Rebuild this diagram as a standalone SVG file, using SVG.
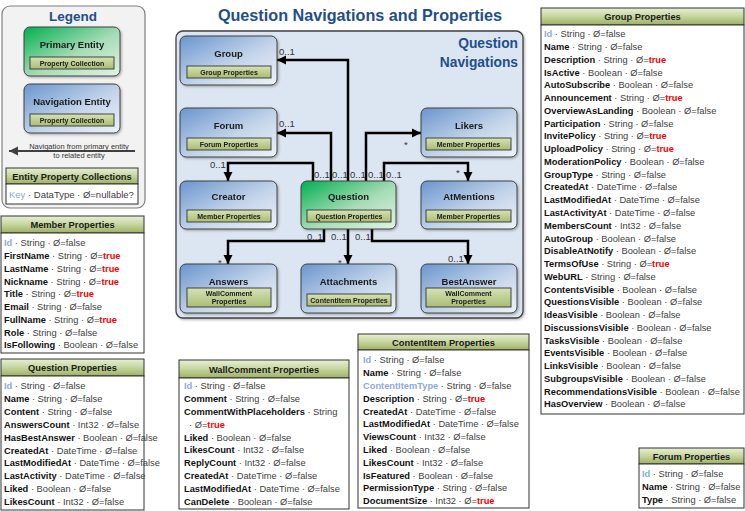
<svg xmlns="http://www.w3.org/2000/svg" width="745" height="511" viewBox="0 0 745 511">
<style>
text{font-family:"Liberation Sans",Arial,sans-serif}
.bg{fill:#fff}
.legend{fill:#f2f2f2;stroke:#7f7f7f;stroke-width:1.2}
.panel{fill:#dce6f2;stroke:#404040;stroke-width:1.3}
.nav{fill:url(#gNav);stroke:#404040;stroke-width:1}
.pri{fill:url(#gPri);stroke:#404040;stroke-width:1}
.bar{fill:url(#gBar);stroke:#333;stroke-width:0.9}
.hdr{fill:url(#gHdr);stroke:#333;stroke-width:1}
.body{fill:#fff;stroke:#333;stroke-width:1}
.nt{font-size:9.5px;font-weight:bold;fill:#1a1a1a;text-anchor:middle}
.bt{font-size:7px;font-weight:bold;fill:#1a1a1a;text-anchor:middle}
.ht{font-size:9.3px;font-weight:bold;fill:#1a1a1a;text-anchor:middle}
.r{font-size:9.3px;fill:#404040}
.k{font-weight:bold;fill:#111}
.ik{font-weight:bold;fill:#8eaadb}
.t{font-weight:bold;fill:#f00}
.lbl{font-size:9.5px;fill:#333}
.conn{fill:none;stroke:#000;stroke-width:2.5;marker-end:url(#arr)}
.big{font-weight:bold;fill:#1f4e8c}
</style>
<defs>
<linearGradient id="gNav" x1="0" y1="0" x2="1" y2="1">
<stop offset="0" stop-color="#6a95ce"/><stop offset="0.55" stop-color="#c3d4ea"/><stop offset="1" stop-color="#eef3f9"/>
</linearGradient>
<linearGradient id="gPri" x1="0" y1="0" x2="1" y2="1">
<stop offset="0" stop-color="#00b050"/><stop offset="0.55" stop-color="#a8dcb7"/><stop offset="1" stop-color="#e2f3e6"/>
</linearGradient>
<linearGradient id="gBar" x1="0" y1="0" x2="0" y2="1">
<stop offset="0" stop-color="#d6e2b4"/><stop offset="1" stop-color="#a9bc74"/>
</linearGradient>
<linearGradient id="gHdr" x1="0" y1="0" x2="0" y2="1">
<stop offset="0" stop-color="#e8efd6"/><stop offset="0.5" stop-color="#c6d59d"/><stop offset="1" stop-color="#9db063"/>
</linearGradient>
<filter id="sh" x="-10%" y="-10%" width="130%" height="130%">
<feDropShadow dx="1.2" dy="1.2" stdDeviation="0.8" flood-color="#000" flood-opacity="0.3"/>
</filter>
<marker id="arr" markerUnits="userSpaceOnUse" markerWidth="10" markerHeight="10" refX="9" refY="5" orient="auto">
<path d="M0,0.5 L9,5 L0,9.5 z" fill="#000"/>
</marker>
<marker id="arrG" markerUnits="userSpaceOnUse" markerWidth="10" markerHeight="10" refX="9" refY="5" orient="auto">
<path d="M0,0.5 L9,5 L0,9.5 z" fill="#404040"/>
</marker>
</defs>
<rect class="bg" x="0" y="0" width="745" height="511"/>

<!-- Legend -->
<g id="legend">
<rect class="legend" x="2" y="6" width="143" height="202" rx="8"/>
<text class="big" x="73" y="21" font-size="13.5" text-anchor="middle">Legend</text>
<g id="legend-primary" filter="url(#sh)">
<rect class="pri" x="24" y="27" width="96" height="49" rx="6"/>
<text class="nt" x="72" y="48.3">Primary Entity</text>
<rect class="bar" x="30" y="57" width="84" height="12"/>
<text class="bt" x="72" y="65.5">Property Collection</text>
</g>
<g id="legend-navigation" filter="url(#sh)">
<rect class="nav" x="24" y="84" width="96" height="49" rx="6"/>
<text class="nt" x="72" y="105.3">Navigation Entity</text>
<rect class="bar" x="30" y="114" width="84" height="12"/>
<text class="bt" x="72" y="122.5">Property Collection</text>
</g>
<line x1="135" y1="151" x2="9" y2="151" stroke="#404040" stroke-width="2" marker-end="url(#arrG)"/>
<text x="79" y="149" font-size="7.5" fill="#333" text-anchor="middle">Navigation from primary entity</text>
<text x="79" y="158" font-size="7.5" fill="#333" text-anchor="middle">to related entity</text>
<g id="legend-collections">
<rect class="hdr" x="6" y="168" width="132" height="16"/>
<text class="ht" x="72" y="179.5">Entity Property Collections</text>
<rect class="body" x="6" y="184" width="132" height="20"/>
<text x="9" y="197.5" font-size="9.5" fill="#404040"><tspan fill="#8eaadb">Key</tspan> · DataType · Ø=nullable?</text>
</g>
</g>

<!-- Title -->
<text class="big" x="360" y="21" font-size="16.2" text-anchor="middle">Question Navigations and Properties</text>

<!-- Panel -->
<g id="panel">
<rect class="panel" x="176" y="31" width="347" height="287" rx="7" filter="url(#sh)"/>
<text class="big" x="518" y="48" font-size="13.8" text-anchor="end">Question</text>
<text class="big" x="518" y="67" font-size="13.8" text-anchor="end">Navigations</text>
</g>

<!-- Connectors -->
<g id="connectors">
<path class="conn" d="M348,181 V60 H277"/>
<path class="conn" d="M331,181 V133 H277"/>
<path class="conn" d="M313,181 V163 H228 V181"/>
<path class="conn" d="M366,181 V133 H421"/>
<path class="conn" d="M384,181 V163 H468 V181"/>
<path class="conn" d="M324,229 V241 H228 V264"/>
<path class="conn" d="M348,229 V264"/>
<path class="conn" d="M372,229 V241 H468 V264"/>
<text class="lbl" x="279" y="54.5">0..1</text>
<text class="lbl" x="279" y="126.5">0..1</text>
<text class="lbl" x="404" y="148">*</text>
<text class="lbl" x="210" y="167.5">0..1</text>
<text class="lbl" x="456" y="176">*</text>
<text class="lbl" x="314" y="177.5">0..1</text>
<text class="lbl" x="332" y="177.5">0..1</text>
<text class="lbl" x="350" y="177.5">0..1</text>
<text class="lbl" x="368" y="177.5">0..1</text>
<text class="lbl" x="386" y="177.5">0..1</text>
<text class="lbl" x="307" y="239.5">0..1</text>
<text class="lbl" x="331" y="239.5">0..1</text>
<text class="lbl" x="355" y="239.5">0..1</text>
<text class="lbl" x="218" y="266">*</text>
<text class="lbl" x="338" y="266">*</text>
<text class="lbl" x="448" y="261.5">0..1</text>
</g>

<!-- Nodes -->
<g id="node-group" filter="url(#sh)">
<rect class="nav" x="180" y="36" width="97" height="49" rx="6"/>
<text class="nt" x="228.5" y="57.3">Group</text>
<rect class="bar" x="187" y="66" width="84" height="12"/>
<text class="bt" x="229" y="74.5">Group Properties</text>
</g>
<g id="node-forum" filter="url(#sh)">
<rect class="nav" x="180" y="108" width="97" height="49" rx="6"/>
<text class="nt" x="228.5" y="129.3">Forum</text>
<rect class="bar" x="187" y="138" width="84" height="12"/>
<text class="bt" x="229" y="146.5">Forum Properties</text>
</g>
<g id="node-likers" filter="url(#sh)">
<rect class="nav" x="421" y="108" width="96" height="49" rx="6"/>
<text class="nt" x="469" y="129.3">Likers</text>
<rect class="bar" x="426" y="138" width="85" height="12"/>
<text class="bt" x="468.5" y="146.5">Member Properties</text>
</g>
<g id="node-creator" filter="url(#sh)">
<rect class="nav" x="180" y="181" width="97" height="48" rx="6"/>
<text class="nt" x="228.5" y="200.3">Creator</text>
<rect class="bar" x="187" y="210" width="84" height="12"/>
<text class="bt" x="229" y="218.5">Member Properties</text>
</g>
<g id="node-question" filter="url(#sh)">
<rect class="pri" x="301" y="181" width="95" height="48" rx="6"/>
<text class="nt" x="348.5" y="200.3">Question</text>
<rect class="bar" x="307" y="210" width="84" height="12"/>
<text class="bt" x="349" y="218.5">Question Properties</text>
</g>
<g id="node-atmentions" filter="url(#sh)">
<rect class="nav" x="421" y="181" width="96" height="48" rx="6"/>
<text class="nt" x="469" y="200.3">AtMentions</text>
<rect class="bar" x="426" y="210" width="85" height="12"/>
<text class="bt" x="468.5" y="218.5">Member Properties</text>
</g>
<g id="node-answers" filter="url(#sh)">
<rect class="nav" x="180" y="264" width="97" height="49" rx="6"/>
<text class="nt" x="228.5" y="285.3">Answers</text>
<rect class="bar" x="187" y="288" width="84" height="19"/>
<text class="bt" x="229" y="296">WallComment</text>
<text class="bt" x="229" y="303.5">Properties</text>
</g>
<g id="node-attachments" filter="url(#sh)">
<rect class="nav" x="301" y="264" width="95" height="49" rx="6"/>
<text class="nt" x="348.5" y="285.3">Attachments</text>
<rect class="bar" x="307" y="294" width="84" height="12"/>
<text class="bt" x="349" y="302.5">ContentItem Properties</text>
</g>
<g id="node-bestanswer" filter="url(#sh)">
<rect class="nav" x="421" y="264" width="96" height="49" rx="6"/>
<text class="nt" x="469" y="285.3">BestAnswer</text>
<rect class="bar" x="426" y="288" width="85" height="19"/>
<text class="bt" x="468.5" y="296">WallComment</text>
<text class="bt" x="468.5" y="303.5">Properties</text>
</g>

<!-- Group Properties -->
<g id="table-group">
<rect class="hdr" x="541" y="8" width="203" height="17"/>
<text class="ht" x="642.5" y="20">Group Properties</text>
<rect class="body" x="541" y="25" width="203" height="389"/>
<text class="r" x="544" y="37.3"><tspan class="ik">Id</tspan> · String · Ø=false</text>
<text class="r" x="544" y="50.1"><tspan class="k">Name</tspan> · String · Ø=false</text>
<text class="r" x="544" y="62.8"><tspan class="k">Description</tspan> · String · Ø=<tspan class="t">true</tspan></text>
<text class="r" x="544" y="75.6"><tspan class="k">IsActive</tspan> · Boolean · Ø=false</text>
<text class="r" x="544" y="88.3"><tspan class="k">AutoSubscribe</tspan> · Boolean · Ø=false</text>
<text class="r" x="544" y="101.1"><tspan class="k">Announcement</tspan> · String · Ø=<tspan class="t">true</tspan></text>
<text class="r" x="544" y="113.9"><tspan class="k">OverviewAsLanding</tspan> · Boolean · Ø=false</text>
<text class="r" x="544" y="126.6"><tspan class="k">Participation</tspan> · String · Ø=false</text>
<text class="r" x="544" y="139.4"><tspan class="k">InvitePolicy</tspan> · String · Ø=<tspan class="t">true</tspan></text>
<text class="r" x="544" y="152.1"><tspan class="k">UploadPolicy</tspan> · String · Ø=<tspan class="t">true</tspan></text>
<text class="r" x="544" y="164.9"><tspan class="k">ModerationPolicy</tspan> · Boolean · Ø=false</text>
<text class="r" x="544" y="177.7"><tspan class="k">GroupType</tspan> · String · Ø=false</text>
<text class="r" x="544" y="190.4"><tspan class="k">CreatedAt</tspan> · DateTime · Ø=false</text>
<text class="r" x="544" y="203.2"><tspan class="k">LastModifiedAt</tspan> · DateTime · Ø=false</text>
<text class="r" x="544" y="215.9"><tspan class="k">LastActivityAt</tspan> · DateTime · Ø=false</text>
<text class="r" x="544" y="228.7"><tspan class="k">MembersCount</tspan> · Int32 · Ø=false</text>
<text class="r" x="544" y="241.5"><tspan class="k">AutoGroup</tspan> · Boolean · Ø=false</text>
<text class="r" x="544" y="254.2"><tspan class="k">DisableAtNotify</tspan> · Boolean · Ø=false</text>
<text class="r" x="544" y="267.0"><tspan class="k">TermsOfUse</tspan> · String · Ø=<tspan class="t">true</tspan></text>
<text class="r" x="544" y="279.7"><tspan class="k">WebURL</tspan> · String · Ø=false</text>
<text class="r" x="544" y="292.5"><tspan class="k">ContentsVisible</tspan> · Boolean · Ø=false</text>
<text class="r" x="544" y="305.3"><tspan class="k">QuestionsVisible</tspan> · Boolean · Ø=false</text>
<text class="r" x="544" y="318.0"><tspan class="k">IdeasVisible</tspan> · Boolean · Ø=false</text>
<text class="r" x="544" y="330.8"><tspan class="k">DiscussionsVisible</tspan> · Boolean · Ø=false</text>
<text class="r" x="544" y="343.5"><tspan class="k">TasksVisible</tspan> · Boolean · Ø=false</text>
<text class="r" x="544" y="356.3"><tspan class="k">EventsVisible</tspan> · Boolean · Ø=false</text>
<text class="r" x="544" y="369.1"><tspan class="k">LinksVisible</tspan> · Boolean · Ø=false</text>
<text class="r" x="544" y="381.8"><tspan class="k">SubgroupsVisible</tspan> · Boolean · Ø=false</text>
<text class="r" x="544" y="394.6"><tspan class="k">RecommendationsVisible</tspan> · Boolean · Ø=false</text>
<text class="r" x="544" y="407.3"><tspan class="k">HasOverview</tspan> · Boolean · Ø=false</text>
</g>

<!-- Member Properties -->
<g id="table-member">
<rect class="hdr" x="1" y="216" width="143" height="17"/>
<text class="ht" x="72.5" y="228">Member Properties</text>
<rect class="body" x="1" y="233" width="143" height="120"/>
<text class="r" x="4" y="246.3"><tspan class="ik">Id</tspan> · String · Ø=false</text>
<text class="r" x="4" y="259.1"><tspan class="k">FirstName</tspan> · String · Ø=<tspan class="t">true</tspan></text>
<text class="r" x="4" y="271.8"><tspan class="k">LastName</tspan> · String · Ø=<tspan class="t">true</tspan></text>
<text class="r" x="4" y="284.6"><tspan class="k">Nickname</tspan> · String · Ø=<tspan class="t">true</tspan></text>
<text class="r" x="4" y="297.3"><tspan class="k">Title</tspan> · String · Ø=<tspan class="t">true</tspan></text>
<text class="r" x="4" y="310.1"><tspan class="k">Email</tspan> · String · Ø=false</text>
<text class="r" x="4" y="322.8"><tspan class="k">FullName</tspan> · String · Ø=<tspan class="t">true</tspan></text>
<text class="r" x="4" y="335.6"><tspan class="k">Role</tspan> · String · Ø=false</text>
<text class="r" x="4" y="348.3"><tspan class="k">IsFollowing</tspan> · Boolean · Ø=false</text>
</g>

<!-- Question Properties -->
<g id="table-question">
<rect class="hdr" x="1" y="359" width="143" height="17"/>
<text class="ht" x="72.5" y="371">Question Properties</text>
<rect class="body" x="1" y="376" width="143" height="134"/>
<text class="r" x="4" y="389.3"><tspan class="ik">Id</tspan> · String · Ø=false</text>
<text class="r" x="4" y="402.2"><tspan class="k">Name</tspan> · String · Ø=false</text>
<text class="r" x="4" y="415.0"><tspan class="k">Content</tspan> · String · Ø=false</text>
<text class="r" x="4" y="427.9"><tspan class="k">AnswersCount</tspan> · Int32 · Ø=false</text>
<text class="r" x="4" y="440.7"><tspan class="k">HasBestAnswer</tspan> · Boolean · Ø=false</text>
<text class="r" x="4" y="453.6"><tspan class="k">CreatedAt</tspan> · DateTime · Ø=false</text>
<text class="r" x="4" y="466.4"><tspan class="k">LastModifiedAt</tspan> · DateTime · Ø=false</text>
<text class="r" x="4" y="479.3"><tspan class="k">LastActivity</tspan> · DateTime · Ø=false</text>
<text class="r" x="4" y="492.1"><tspan class="k">Liked</tspan> · Boolean · Ø=false</text>
<text class="r" x="4" y="505.0"><tspan class="k">LikesCount</tspan> · Int32 · Ø=false</text>
</g>

<!-- WallComment Properties -->
<g id="table-wallcomment">
<rect class="hdr" x="179" y="360" width="170" height="18"/>
<text class="ht" x="264" y="372.5">WallComment Properties</text>
<rect class="body" x="179" y="378" width="170" height="131"/>
<text class="r" x="184" y="389.3"><tspan class="ik">Id</tspan> · String · Ø=false</text>
<text class="r" x="184" y="402.1"><tspan class="k">Comment</tspan> · String · Ø=false</text>
<text class="r" x="184" y="414.9"><tspan class="k">CommentWithPlaceholders</tspan> · String</text>
<text class="r" x="189" y="427.7">· Ø=<tspan class="t">true</tspan></text>
<text class="r" x="184" y="440.5"><tspan class="k">Liked</tspan> · Boolean · Ø=false</text>
<text class="r" x="184" y="453.3"><tspan class="k">LikesCount</tspan> · Int32 · Ø=false</text>
<text class="r" x="184" y="466.1"><tspan class="k">ReplyCount</tspan> · Int32 · Ø=false</text>
<text class="r" x="184" y="478.9"><tspan class="k">CreatedAt</tspan> · DateTime · Ø=false</text>
<text class="r" x="184" y="491.7"><tspan class="k">LastModifiedAt</tspan> · DateTime · Ø=false</text>
<text class="r" x="184" y="504.5"><tspan class="k">CanDelete</tspan> · Boolean · Ø=false</text>
</g>

<!-- ContentItem Properties -->
<g id="table-contentitem">
<rect class="hdr" x="358" y="334" width="171" height="16"/>
<text class="ht" x="443.5" y="345.5">ContentItem Properties</text>
<rect class="body" x="358" y="350" width="171" height="158"/>
<text class="r" x="363" y="363.3"><tspan class="ik">Id</tspan> · String · Ø=false</text>
<text class="r" x="363" y="376.1"><tspan class="k">Name</tspan> · String · Ø=false</text>
<text class="r" x="363" y="388.9"><tspan class="ik">ContentItemType</tspan> · String · Ø=false</text>
<text class="r" x="363" y="401.7"><tspan class="k">Description</tspan> · String · Ø=<tspan class="t">true</tspan></text>
<text class="r" x="363" y="414.5"><tspan class="k">CreatedAt</tspan> · DateTime · Ø=false</text>
<text class="r" x="363" y="427.3"><tspan class="k">LastModifiedAt</tspan> · DateTime · Ø=false</text>
<text class="r" x="363" y="440.1"><tspan class="k">ViewsCount</tspan> · Int32 · Ø=false</text>
<text class="r" x="363" y="452.9"><tspan class="k">Liked</tspan> · Boolean · Ø=false</text>
<text class="r" x="363" y="465.7"><tspan class="k">LikesCount</tspan> · Int32 · Ø=false</text>
<text class="r" x="363" y="478.5"><tspan class="k">IsFeatured</tspan> · Boolean · Ø=false</text>
<text class="r" x="363" y="491.3"><tspan class="k">PermissionType</tspan> · String · Ø=false</text>
<text class="r" x="363" y="504.1"><tspan class="k">DocumentSize</tspan> · Int32 · Ø=<tspan class="t">true</tspan></text>
</g>

<!-- Forum Properties -->
<g id="table-forum">
<rect class="hdr" x="639" y="448" width="105" height="16"/>
<text class="ht" x="691.5" y="459.5">Forum Properties</text>
<rect class="body" x="639" y="464" width="105" height="44"/>
<text class="r" x="642" y="477.3"><tspan class="ik">Id</tspan> · String · Ø=false</text>
<text class="r" x="642" y="490.3"><tspan class="k">Name</tspan> · String · Ø=false</text>
<text class="r" x="642" y="503.3"><tspan class="k">Type</tspan> · String · Ø=false</text>
</g>
</svg>
